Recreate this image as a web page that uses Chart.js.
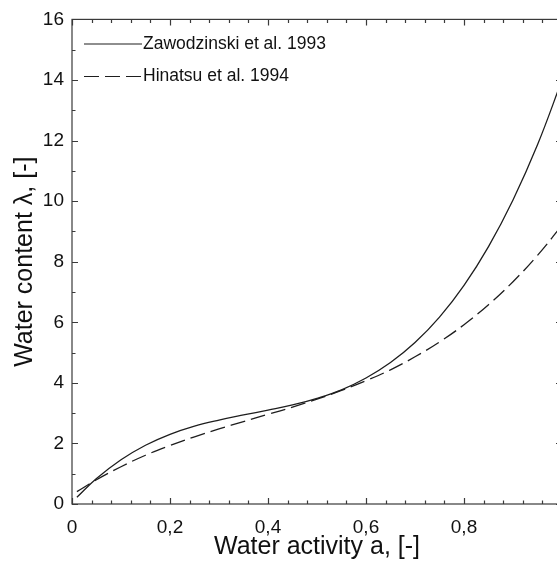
<!DOCTYPE html>
<html>
<head>
<meta charset="utf-8">
<script src="https://cdn.jsdelivr.net/npm/chart.js@4.4.1/dist/chart.umd.min.js"></script>
<style>
  html, body { margin: 0; padding: 0; background: #fff; overflow: hidden; }
  #wrap { width: 557px; height: 562px; overflow: hidden; position: relative; }
  canvas { display: block; }
</style>
</head>
<body>
<div id="wrap"><canvas id="c" width="580" height="562"></canvas></div>
<script>
// Water activity (x) values
const waterActivity = [0.01, 0.05, 0.10, 0.15, 0.20, 0.25, 0.30, 0.35, 0.40, 0.45, 0.50,
                       0.55, 0.60, 0.65, 0.70, 0.75, 0.80, 0.85, 0.90, 0.95, 1.00];
// Water content λ — Zawodzinski et al. 1993 (solid)
const zawodzinski1993 = [0.22, 0.84, 1.46, 1.94, 2.30, 2.57, 2.77, 2.94, 3.10, 3.27, 3.49,
                         3.77, 4.16, 4.67, 5.33, 6.17, 7.22, 8.50, 10.04, 11.86, 14.00];
// Water content λ — Hinatsu et al. 1994 (dashed)
const hinatsu1994 = [0.41, 0.80, 1.23, 1.61, 1.93, 2.22, 2.48, 2.72, 2.96, 3.20, 3.46,
                     3.75, 4.07, 4.43, 4.86, 5.35, 5.92, 6.58, 7.34, 8.21, 9.20];
const seriesLabels = ['Zawodzinski et al. 1993', 'Hinatsu et al. 1994'];
const xTickLabels = ['0', '0,2', '0,4', '0,6', '0,8', ''];
const yTickLabels = ['0', '2', '4', '6', '8', '10', '12', '14', '16'];
const xTitle = 'Water activity a, [-]';
const yTitle = 'Water content \u03bb, [-]';

const toPts = (ys) => waterActivity.map((x, i) => ({ x: x, y: ys[i] }));
const LINE = '#1e1e1e';
const AXIS = '#3a3a3a';
const FONT = '"Liberation Sans", Arial, sans-serif';

const framePlugin = {
  id: 'frameTicks',
  afterDraw(chart) {
    const ctx = chart.ctx;
    const a = chart.chartArea;
    const xs = chart.scales.x, ys = chart.scales.y;
    ctx.save();
    ctx.strokeStyle = AXIS;
    ctx.lineWidth = 1.2;
    ctx.strokeRect(a.left, a.top, a.right - a.left, a.bottom - a.top);
    ctx.beginPath();
    for (let i = 0; i <= 25; i++) {
      const v = i * 0.04;
      const major = i % 5 === 0;
      const len = major ? 6 : 3.5;
      const px = Math.round(xs.getPixelForValue(v)) + 0.5;
      ctx.moveTo(px, a.bottom); ctx.lineTo(px, a.bottom - len);
      ctx.moveTo(px, a.top); ctx.lineTo(px, a.top + len);
    }
    for (let j = 0; j <= 16; j++) {
      const major = j % 2 === 0;
      const len = major ? 6 : 3.5;
      const py = Math.round(ys.getPixelForValue(j)) + 0.5;
      ctx.moveTo(a.left, py); ctx.lineTo(a.left + len, py);
      ctx.moveTo(a.right, py); ctx.lineTo(a.right - len, py);
    }
    ctx.stroke();

    // legend inside the plot
    ctx.font = '17.5px ' + FONT;
    ctx.fillStyle = '#111';
    ctx.textBaseline = 'middle';
    ctx.textAlign = 'left';
    const rows = [44, 76.5];
    chart.data.datasets.forEach((ds, k) => {
      const y = rows[k];
      ctx.beginPath();
      ctx.strokeStyle = LINE;
      ctx.lineWidth = 1.2;
      ctx.setLineDash(ds.borderDash ? [15, 6] : []);
      ctx.moveTo(84, y); ctx.lineTo(142, y);
      ctx.stroke();
      ctx.setLineDash([]);
      ctx.fillText(ds.label, 143, y);
    });
    ctx.restore();
  }
};

new Chart(document.getElementById('c'), {
  type: 'line',
  data: {
    datasets: [
      { label: seriesLabels[0], data: toPts(zawodzinski1993), borderColor: LINE, borderWidth: 1.3,
        pointRadius: 0, tension: 0.4, fill: false },
      { label: seriesLabels[1], data: toPts(hinatsu1994), borderColor: LINE, borderWidth: 1.3,
        borderDash: [15, 6], pointRadius: 0, tension: 0.4, fill: false }
    ]
  },
  options: {
    responsive: false,
    animation: false,
    devicePixelRatio: 1,
    layout: { padding: { left: 0, top: 16, right: 18, bottom: 0 } },
    plugins: { legend: { display: false }, tooltip: { enabled: false } },
    scales: {
      x: {
        type: 'linear', min: 0, max: 1,
        grid: { display: false, drawTicks: false },
        border: { display: false },
        afterFit(s) { s.height = 58; },
        afterBuildTicks(s) { s.ticks = xTickLabels.map((_, i) => ({ value: i * 0.2 })); },
        ticks: {
          padding: 12, maxRotation: 0, autoSkip: false, color: '#111',
          font: { family: FONT, size: 19 },
          callback: (v, i) => xTickLabels[i]
        },
        title: { display: true, text: xTitle, color: '#111', padding: { top: 0, bottom: 0 },
          font: { family: FONT, size: 25 } }
      },
      y: {
        min: 0, max: 16,
        grid: { display: false, drawTicks: false },
        border: { display: false },
        afterFit(s) { s.width = 72; },
        afterBuildTicks(s) { s.ticks = yTickLabels.map((_, i) => ({ value: i * 2 })); },
        ticks: {
          padding: 8, autoSkip: false, color: '#111',
          font: { family: FONT, size: 19 },
          callback: (v, i) => yTickLabels[i]
        },
        title: { display: true, text: yTitle, color: '#111', padding: { top: 10, bottom: 0 },
          font: { family: FONT, size: 25 } }
      }
    }
  },
  plugins: [framePlugin]
});
</script>
</body>
</html>
